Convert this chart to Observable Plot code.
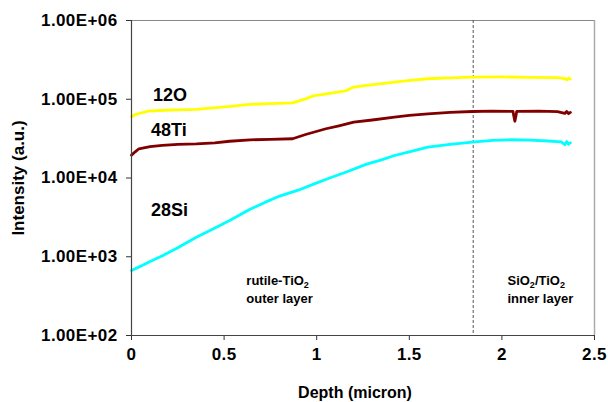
<!DOCTYPE html>
<html>
<head>
<meta charset="utf-8">
<script src="https://cdn.jsdelivr.net/npm/d3@7"></script>
<script src="https://cdn.jsdelivr.net/npm/@observablehq/plot@0.6"></script>
<style>
  html, body { margin: 0; padding: 0; background: white; }
</style>
</head>
<body>
<div id="chart"></div>
<script>
// ---- data ----
const depthO = [0, 0.02, 0.09, 0.18, 0.25, 0.35, 0.44, 0.55, 0.62, 0.75, 0.87, 0.94, 0.98, 1.08, 1.16, 1.20, 1.27, 1.42, 1.52, 1.60, 1.72, 1.84, 2.0, 2.15, 2.3, 2.34, 2.35, 2.36, 2.37];
const intensityO = [60000, 64000, 70500, 72500, 73400, 74500, 77900, 82000, 85700, 88000, 90100, 101000, 110000, 120000, 129000, 143000, 150000, 165000, 175000, 182000, 187000, 191000, 192000, 190000, 188000, 183000, 176000, 186000, 180000];

const depthTi = [0, 0.02, 0.04, 0.1, 0.166, 0.25, 0.35, 0.45, 0.53, 0.64, 0.75, 0.87, 0.94, 1.05, 1.12, 1.20, 1.30, 1.42, 1.50, 1.60, 1.72, 1.84, 1.95, 2.06, 2.065, 2.07, 2.075, 2.08, 2.2, 2.3, 2.34, 2.35, 2.36, 2.37];
const intensityTi = [19500, 21500, 23500, 25000, 25900, 26800, 27200, 28000, 29300, 30500, 31000, 31500, 35700, 42200, 46000, 51200, 54500, 59200, 62500, 65300, 68000, 69900, 70500, 70000, 60000, 52600, 60000, 70000, 70500, 69500, 66000, 70000, 65500, 68000];

const depthSi = [0, 0.05, 0.10, 0.17, 0.25, 0.35, 0.44, 0.53, 0.64, 0.72, 0.80, 0.90, 0.98, 1.07, 1.16, 1.27, 1.35, 1.42, 1.50, 1.60, 1.72, 1.84, 1.95, 2.05, 2.15, 2.25, 2.32, 2.34, 2.35, 2.36, 2.37];
const intensitySi = [670, 760, 870, 1040, 1300, 1770, 2250, 2880, 4000, 4900, 5900, 7000, 8300, 10000, 11900, 15000, 17000, 19300, 21500, 24600, 26800, 28500, 30000, 30600, 30300, 29500, 28800, 26500, 29000, 26800, 28000];

const seriesNames = ["12O", "48Ti", "28Si"];
const seriesColors = ["#FFFF00", "#800000", "#00FFFF"];
const seriesLabelX = [0.116, 0.105, 0.105];
const seriesLabelY = [112000, 40000, 3860];

const xTicks = [0, 0.5, 1, 1.5, 2, 2.5];
const xTickLabels = ["0", "0.5", "1", "1.5", "2", "2.5"];
const yTicks = [1e2, 1e3, 1e4, 1e5, 1e6];
const yTickLabels = ["1.00E+02", "1.00E+03", "1.00E+04", "1.00E+05", "1.00E+06"];

const boundaryDepth = 1.845;
const regionLabelsX = [0.62, 2.03];
const regionLine1 = ["rutile-TiO₂", "SiO₂/TiO₂"];
const regionLine2 = ["outer layer", "inner layer"];
const regionY1 = 500;
const regionY2 = 296;

const xTitle = "Depth (micron)";
const yTitle = "Intensity (a.u.)";

// ---- build tables ----
const rows = [];
[[depthO, intensityO], [depthTi, intensityTi], [depthSi, intensitySi]].forEach(([xs, ys], k) => {
  xs.forEach((x, i) => rows.push({ series: seriesNames[k], depth: x, intensity: ys[i] }));
});
const labels = seriesNames.map((s, k) => ({ s, x: seriesLabelX[k], y: seriesLabelY[k] }));
const regions1 = regionLabelsX.map((x, i) => ({ x, y: regionY1, t: regionLine1[i] }));
const regions2 = regionLabelsX.map((x, i) => ({ x, y: regionY2, t: regionLine2[i] }));

const font = "'Liberation Sans', Arial, sans-serif";

const chart = Plot.plot({
  width: 608,
  height: 402,
  marginLeft: 131,
  marginRight: 14,
  marginTop: 20,
  marginBottom: 67,
  style: { fontFamily: font, fontWeight: "bold", background: "white", color: "black" },
  x: { domain: [0, 2.5] },
  y: { type: "log", domain: [100, 1e6] },
  color: { domain: seriesNames, range: seriesColors },
  marks: [
    Plot.ruleY([1e6], { stroke: "#888", strokeWidth: 1 }),
    Plot.ruleX([2.5], { stroke: "#aaa", strokeWidth: 1.5 }),
    Plot.ruleX([boundaryDepth], { stroke: "#555", strokeWidth: 1, strokeDasharray: "3,2" }),
    Plot.line(rows, { x: "depth", y: "intensity", z: "series", stroke: "series", strokeWidth: 2.8 }),
    Plot.axisX({ ticks: xTicks, tickFormat: d => xTickLabels[xTicks.indexOf(d)], tickSize: 5, tickPadding: 7, fontSize: 17, label: null, stroke: "#333" }),
    Plot.axisY({ ticks: yTicks, tickFormat: d => yTickLabels[yTicks.indexOf(d)], tickSize: 5, tickPadding: 9, fontSize: 17, label: null, stroke: "#333" }),
    Plot.ruleX([0], { stroke: "#444", strokeWidth: 1.2 }),
    Plot.ruleY([100], { stroke: "#444", strokeWidth: 1.2 }),
    Plot.text(labels, { x: "x", y: "y", text: "s", textAnchor: "start", fontSize: 18, fontWeight: "bold", fill: "black" }),
    Plot.text(regions1, { x: "x", y: "y", text: "t", textAnchor: "start", fontSize: 13, fontWeight: "bold", fill: "black", className: "region-label" }),
    Plot.text(regions2, { x: "x", y: "y", text: "t", textAnchor: "start", fontSize: 13, fontWeight: "bold", fill: "black" }),
    Plot.text([xTitle], { frameAnchor: "bottom", dy: 62, dx: -8, fontSize: 16, fontWeight: "bold", fill: "black" }),
    Plot.text([yTitle], { frameAnchor: "left", textAnchor: "middle", rotate: -90, dx: -113, fontSize: 17, fontWeight: "bold", fill: "black" })
  ]
});

// letter spacing for the wider tick labels
d3.select(chart).selectAll("g[aria-label='y-axis tick label'] text, g[aria-label='x-axis tick label'] text")
  .attr("letter-spacing", "0.4px");

// render the subscript 2 as a lowered small digit
d3.select(chart).selectAll(".region-label text").each(function () {
  const t = d3.select(this);
  const parts = t.text().split("₂");
  t.text(null);
  let lowered = false;
  parts.forEach((p, i) => {
    if (p) {
      t.append("tspan").attr("dy", lowered ? "-3" : null).text(p);
      lowered = false;
    }
    if (i < parts.length - 1) {
      t.append("tspan").attr("font-size", "9").attr("dy", lowered ? null : "3").text("2");
      lowered = true;
    }
  });
});

document.getElementById("chart").appendChild(chart);
</script>
</body>
</html>
